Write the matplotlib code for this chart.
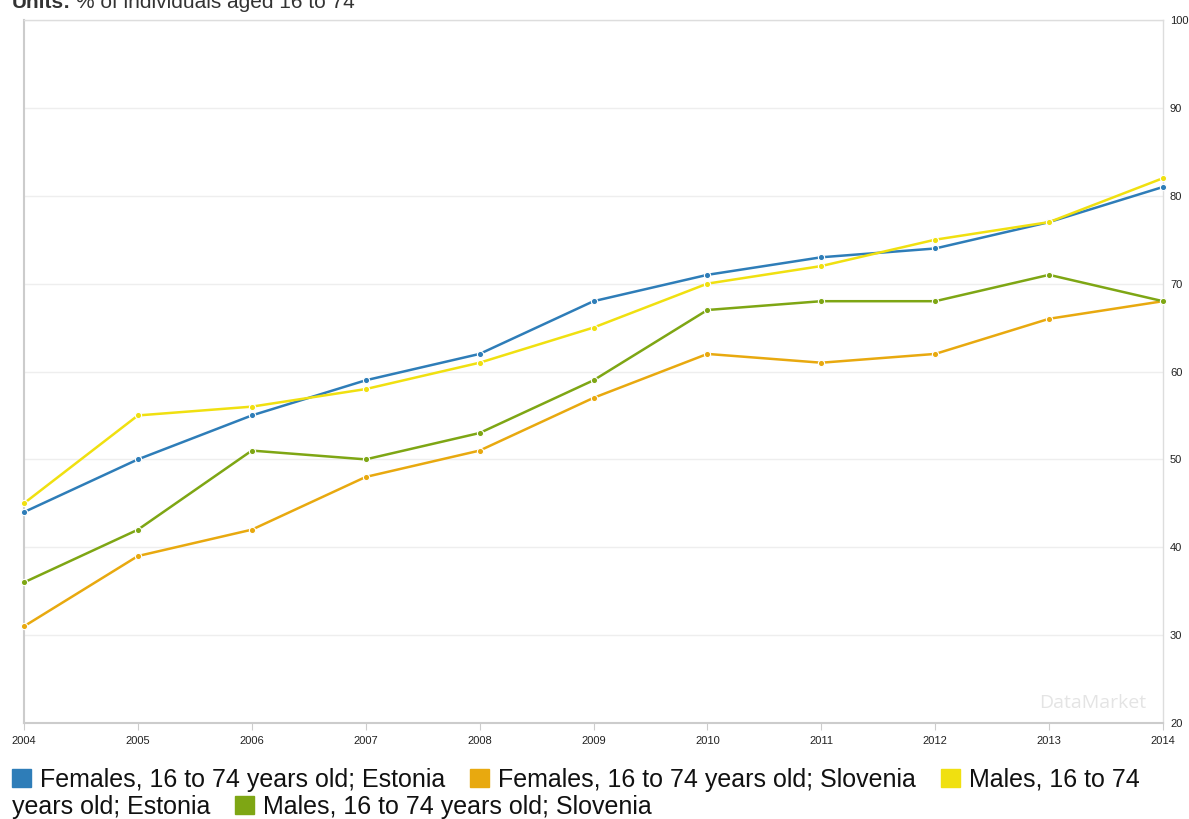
import matplotlib
matplotlib.use("Agg")
import matplotlib.pyplot as plt
from matplotlib.patches import Rectangle

plt.rcParams['font.family'] = ['Liberation Sans', 'DejaVu Sans']

years = [2004, 2005, 2006, 2007, 2008, 2009, 2010, 2011, 2012, 2013, 2014]
females_estonia = [44, 50, 55, 59, 62, 68, 71, 73, 74, 77, 81]
females_slovenia = [31, 39, 42, 48, 51, 57, 62, 61, 62, 66, 68]
males_estonia = [45, 55, 56, 58, 61, 65, 70, 72, 75, 77, 82]
males_slovenia = [36, 42, 51, 50, 53, 59, 67, 68, 68, 71, 68]
y_ticks = [20, 30, 40, 50, 60, 70, 80, 90, 100]

series = [
    ("Females, 16 to 74 years old; Estonia", females_estonia, "#2e7db8"),
    ("Females, 16 to 74 years old; Slovenia", females_slovenia, "#e8a90f"),
    ("Males, 16 to 74 years old; Estonia", males_estonia, "#f0e010"),
    ("Males, 16 to 74 years old; Slovenia", males_slovenia, "#7ea614"),
]

W, H = 1189, 819
fig = plt.figure(figsize=(W / 100, H / 100), dpi=100)
ax = fig.add_axes([24 / W, 1 - 723 / H, (1163 - 24) / W, (723 - 20) / H])

for name, vals, col in series:
    ax.plot(years, vals, color=col, lw=1.8, marker='o', ms=4.5,
            mfc=col, mec='white', mew=0.8, zorder=3, clip_on=False)

ax.set_xlim(2004, 2014)
ax.set_ylim(20, 100)
ax.set_xticks(years)
ax.set_xticklabels([str(y) for y in years], fontsize=8, color='#222222')
ax.set_yticks(y_ticks)
ax.set_yticklabels([str(v) for v in y_ticks], fontsize=8, color='#222222')
ax.yaxis.tick_right()
ax.tick_params(axis='y', length=0, pad=5)
ax.tick_params(axis='x', length=5, color='#cccccc', pad=4)
ax.grid(axis='y', color='#eeeeee', lw=1)
ax.set_axisbelow(True)
for side in ['top', 'right']:
    ax.spines[side].set_color('#dddddd')
    ax.spines[side].set_linewidth(1)
for side in ['left', 'bottom']:
    ax.spines[side].set_color('#cccccc')
    ax.spines[side].set_linewidth(1.5)

ax.text(0.985, 0.015, "DataMarket", transform=ax.transAxes, ha='right',
        va='bottom', fontsize=14, color='#e4e4e4', family='Open Sans')

renderer = fig.canvas.get_renderer()


def text_width_px(t):
    return t.get_window_extent(renderer=renderer).width


# Units line along the top edge
units_y = 1 - 8 / H
t_units = fig.text(12 / W, units_y, "Units:", fontsize=15, fontweight='bold',
                   va='baseline', ha='left', color='#333333')
ux = 12 + text_width_px(t_units) + 5
fig.text(ux / W, units_y, "% of individuals aged 16 to 74", fontsize=15,
         va='baseline', ha='left', color='#333333')

# Legend laid out as wrapped text flow
fs = 18
rows = [1 - 787 / H, 1 - 814 / H]
sq_w, sq_h = 19, 18
gap_sq_txt, gap_item = 9, 25
flow = [
    ("sq", series[0][2]), ("txt", series[0][0]),
    ("sq", series[1][2]), ("txt", series[1][0]),
    ("sq", series[2][2]), ("txt", "Males, 16 to 74"),
    ("break", None),
    ("txt", "years old; Estonia"),
    ("sq", series[3][2]), ("txt", series[3][0]),
]
x, row = 12, 0
for kind, val in flow:
    yb = rows[row]
    if kind == "break":
        x, row = 12, row + 1
    elif kind == "sq":
        fig.patches.append(Rectangle((x / W, yb), sq_w / W, sq_h / H,
                                     color=val, transform=fig.transFigure,
                                     figure=fig))
        x += sq_w + gap_sq_txt
    else:
        t = fig.text(x / W, yb, val, fontsize=fs, va='baseline', ha='left',
                     color='#111111')
        x += text_width_px(t) + gap_item

fig.savefig("out.png", dpi=100)
